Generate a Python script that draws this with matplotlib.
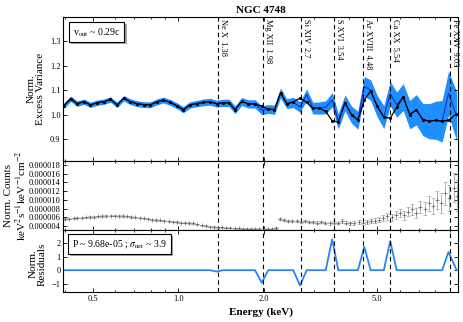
import matplotlib
matplotlib.use("Agg")
import matplotlib.pyplot as plt
import matplotlib.patheffects as pe
from matplotlib.ticker import FixedLocator, FormatStrFormatter, LogLocator, NullFormatter
import matplotlib.transforms as mtransforms

plt.rcParams.update({
    'font.family': 'serif',
    'font.serif': ['Liberation Serif', 'DejaVu Serif'],
    'mathtext.fontset': 'stix',
    'font.size': 6,
    'xtick.direction': 'in', 'ytick.direction': 'in',
    'xtick.top': True, 'ytick.right': True,
    'xtick.major.size': 3, 'ytick.major.size': 3,
    'xtick.minor.size': 1.5, 'ytick.minor.size': 1.5,
    'xtick.major.width': 0.6, 'ytick.major.width': 0.6,
    'axes.linewidth': 0.8,
})

# energies of the excess variance bins (keV)
energy = [0.396, 0.418, 0.441, 0.466, 0.491, 0.519, 0.547, 0.577, 0.609, 0.643,
          0.678, 0.715, 0.755, 0.797, 0.840, 0.887, 0.936, 0.987, 1.041, 1.099,
          1.160, 1.223, 1.292, 1.363, 1.436, 1.508, 1.583, 1.671, 1.763, 1.861,
          1.965, 2.072, 2.179, 2.288, 2.406, 2.538, 2.679, 2.828, 2.971, 3.130,
          3.299, 3.477, 3.653, 3.857, 4.066, 4.282, 4.509, 4.749, 5.010, 5.281,
          5.562, 5.862, 6.179, 6.518, 6.871, 7.242, 7.633, 8.046, 8.473, 8.917,
          9.530]
fvar = [1.037, 1.065, 1.045, 1.053, 1.040, 1.049, 1.053, 1.062, 1.040, 1.067,
        1.053, 1.045, 1.041, 1.040, 1.052, 1.060, 1.050, 1.037, 1.020, 1.040,
        1.045, 1.050, 1.053, 1.045, 1.048, 1.048, 1.020, 1.054, 1.044, 1.044,
        1.018, 1.023, 1.020, 1.089, 1.045, 1.050, 1.031, 1.082, 1.027, 1.027,
        1.030, 1.061, 0.973, 1.048, 1.000, 0.977, 1.116, 1.100, 1.034, 0.990,
        1.086, 1.041, 1.072, 1.000, 1.020, 0.980, 0.973, 0.977, 0.973, 1.088,
        0.993]
fvar_err = [0.011, 0.011, 0.011, 0.011, 0.011, 0.011, 0.011, 0.011, 0.011, 0.011,
            0.012, 0.012, 0.012, 0.012, 0.012, 0.012, 0.012, 0.012, 0.013, 0.013,
            0.013, 0.014, 0.014, 0.014, 0.015, 0.015, 0.016, 0.016, 0.017, 0.017,
            0.018, 0.018, 0.019, 0.020, 0.020, 0.021, 0.022, 0.023, 0.024, 0.025,
            0.027, 0.030, 0.032, 0.033, 0.035, 0.037, 0.040, 0.042, 0.044, 0.047,
            0.050, 0.052, 0.055, 0.058, 0.062, 0.066, 0.072, 0.078, 0.085, 0.090,
            0.100]
model = [1.037, 1.065, 1.045, 1.053, 1.040, 1.049, 1.053, 1.062, 1.040, 1.067,
         1.053, 1.045, 1.041, 1.040, 1.052, 1.060, 1.050, 1.037, 1.020, 1.040,
         1.045, 1.050, 1.053, 1.045, 1.048, 1.048, 1.020, 1.054, 1.044, 1.044,
         1.034, 1.023, 1.020, 1.089, 1.045, 1.052, 1.068, 1.050, 1.027, 1.027,
         1.013, 0.975, 0.970, 1.048, 1.000, 0.978, 1.060, 1.097, 1.034, 0.990,
         0.985, 1.030, 1.072, 1.000, 1.020, 0.980, 0.973, 0.977, 0.973, 0.977,
         1.004]
resid = [0, 0, 0, 0, 0, 0, 0, 0, 0, 0,
         0, 0, 0, 0, 0, 0, 0, 0, 0, 0,
         0, 0, 0, -0.1, 0, 0, 0, 0, 0, 0,
         -0.92, 0, 0, 0, 0, 0, -1.12, 0, 0, 0,
         0, 2.27, 0, 0, 0, 0, 1.72, 0, 0, 0,
         2.14, 0, 0, 0, 0, 0, 0, 0, 0, 1.34,
         0]

# counts spectrum
spec_e = [0.400, 0.414, 0.428, 0.442, 0.457, 0.473, 0.489, 0.506, 0.523, 0.541,
          0.559, 0.578, 0.598, 0.618, 0.639, 0.661, 0.683, 0.707, 0.731, 0.756,
          0.781, 0.808, 0.835, 0.864, 0.893, 0.924, 0.955, 0.988, 1.021, 1.056,
          1.092, 1.129, 1.168, 1.207, 1.248, 1.291, 1.335, 1.380, 1.427, 1.476,
          1.526, 1.578, 1.632, 1.687, 1.745, 1.804, 1.865, 1.929, 1.994, 2.062,
          2.132, 2.205, 2.280, 2.357, 2.437, 2.520, 2.606, 2.695, 2.786, 2.881,
          2.979, 3.080, 3.185, 3.293, 3.405, 3.521, 3.641, 3.765, 3.893, 4.025,
          4.162, 4.303, 4.450, 4.601, 4.757, 4.919, 5.087, 5.260, 5.438, 5.623,
          5.815, 6.012, 6.217, 6.428, 6.647, 6.873, 7.107, 7.348, 7.598, 7.857,
          8.124, 8.400, 8.686, 8.981, 9.287, 9.590]
spec_c = [5.6, 5.7, 5.8, 5.9, 5.9, 6.0, 6.1, 6.1, 6.2, 6.3,
          6.3, 6.4, 6.4, 6.3, 6.3, 6.2, 6.1, 6.0, 5.9, 5.8,
          5.7, 5.5, 5.4, 5.3, 5.2, 5.1, 5.0, 4.9, 4.8, 4.8,
          4.7, 4.6, 4.4, 4.2, 4.1, 3.9, 3.8, 3.7, 3.7, 3.6,
          3.6, 3.5, 3.5, 3.4, 3.4, 3.4, 3.3, 3.3, 3.3, 3.3,
          3.3, 3.6, 5.6, 5.4, 5.2, 5.2, 5.1, 5.0, 5.1, 4.9,
          4.9, 4.8, 4.9, 4.7, 4.6, 4.8, 4.7, 5.2, 4.8, 4.6,
          4.7, 4.9, 4.8, 5.0, 5.1, 5.2, 5.5, 5.8, 6.2, 6.0,
          6.6, 7.0, 6.5, 7.3, 7.8, 7.0, 8.4, 8.0, 9.2, 8.6,
          10.0, 9.3, 11.5, 10.4, 12.8, 11.0]
spec_err = [0.15, 0.15, 0.15, 0.15, 0.15, 0.15, 0.15, 0.15, 0.15, 0.15,
            0.15, 0.15, 0.15, 0.15, 0.15, 0.15, 0.15, 0.15, 0.15, 0.15,
            0.15, 0.15, 0.15, 0.15, 0.15, 0.15, 0.15, 0.15, 0.15, 0.15,
            0.15, 0.15, 0.15, 0.15, 0.15, 0.15, 0.15, 0.15, 0.15, 0.15,
            0.15, 0.15, 0.15, 0.15, 0.15, 0.15, 0.15, 0.15, 0.15, 0.15,
            0.15, 0.2, 0.25, 0.25, 0.25, 0.25, 0.25, 0.25, 0.25, 0.25,
            0.25, 0.25, 0.3, 0.3, 0.3, 0.3, 0.3, 0.4, 0.4, 0.4,
            0.4, 0.4, 0.5, 0.5, 0.5, 0.6, 0.6, 0.7, 0.8, 0.8,
            0.9, 1.0, 1.0, 1.1, 1.2, 1.2, 1.4, 1.5, 1.7, 1.8,
            2.0, 2.2, 2.6, 3.0, 3.3, 3.5]

line_names = ["Ne X", "Mg XII", "Si XIV", "S XVI", "Ar XVIII", "Ca XX", "Fe XXV"]
line_e = [1.38, 1.98, 2.7, 3.54, 4.48, 5.54, 9.03]

fig = plt.figure(figsize=(4.63, 3.22), dpi=100)
ax1 = fig.add_axes([0.1367, 0.5, 0.8519, 0.4472])
ax2 = fig.add_axes([0.1367, 0.2857, 0.8519, 0.2143])
ax3 = fig.add_axes([0.1367, 0.0932, 0.8519, 0.1925])

lo = [v - e for v, e in zip(fvar, fvar_err)]
hi = [v + e for v, e in zip(fvar, fvar_err)]
ax1.fill_between(energy, lo, hi, color='#1e8fff', lw=0)
ax1.plot(energy, fvar, color='#1530d0', lw=0.8)
ax1.plot(energy, model, color='k', lw=0.9, marker='.', ms=2.5)
ax1.set_ylim(0.81, 1.40)
ax1.set_yticks([0.9, 1.0, 1.1, 1.2, 1.3])
ax1.yaxis.set_major_formatter(FormatStrFormatter('%.1f'))

ax2.errorbar(spec_e, [c * 1e-6 for c in spec_c], yerr=[e * 1e-6 for e in spec_err],
             fmt='+', color='0.4', ecolor='0.65', elinewidth=0.6, capsize=1.3,
             capthick=0.5, ms=2.5, mew=0.5)
ax2.set_ylim(3.1e-6, 18.9e-6)
ax2.set_yticks([4e-6, 6e-6, 8e-6, 10e-6, 12e-6, 14e-6, 16e-6, 18e-6])
ax2.yaxis.set_major_formatter(FormatStrFormatter('%.6f'))

ax3.plot(energy, resid, color='#2a85f0', lw=1.3)
ax3.set_ylim(-1.6, 2.95)
ax3.set_yticks([-1, 0, 1, 2])

for ax in (ax1, ax2, ax3):
    ax.set_xscale('log')
    ax.set_xlim(0.394, 9.61)
    ax.xaxis.set_major_locator(FixedLocator([0.5, 1.0, 2.0, 5.0]))
    ax.xaxis.set_minor_locator(LogLocator(subs=(2, 3, 4, 6, 7, 8, 9)))
    ax.xaxis.set_minor_formatter(NullFormatter())
    ax.xaxis.set_major_formatter(FormatStrFormatter('%.1f'))
    for e in line_e:
        ax.axvline(e, color='k', ls=(0, (4, 3)), lw=0.8)
    ax.tick_params(labelsize=6, pad=2)
ax1.tick_params(labelbottom=False)
ax2.tick_params(labelbottom=False)

# line labels just right of each dashed line
trans = mtransforms.blended_transform_factory(ax1.transData, ax1.transAxes)
shift = mtransforms.ScaledTranslation(1 / 100, 0, fig.dpi_scale_trans)
for name, e in zip(line_names, line_e):
    ax1.text(e, 0.985, f"{name}  {e}", rotation=270, ha='left', va='top',
             transform=trans + shift, fontsize=6)

shadow = [pe.withSimplePatchShadow(offset=(1.5, -1.5), shadow_rgbFace='0.4', alpha=0.6)]
t1 = ax1.text(0.0247, 0.9375, r"v$_{\rm out}$ ~ 0.29c", transform=ax1.transAxes,
              ha='left', va='top', fontsize=7,
              bbox=dict(boxstyle='square,pad=0.4', fc='white', ec='k', lw=0.8))
t1.get_bbox_patch().set_path_effects(shadow)
t2 = ax3.text(0.0222, 0.87, r"P ~ 9.68e-05 ; $\sigma_{\rm net}$ ~ 3.9", transform=ax3.transAxes,
              ha='left', va='top', fontsize=7,
              bbox=dict(boxstyle='square,pad=0.4', fc='white', ec='k', lw=0.8))
t2.get_bbox_patch().set_path_effects(shadow)

ax1.set_title("NGC 4748", fontsize=8, fontweight='bold', pad=3)
ax1.set_ylabel("Norm.\nExcess Variance", fontsize=8, linespacing=1.0)
ax1.yaxis.set_label_coords(-0.046, 0.5)
ax2.set_ylabel("Norm. Counts\nkeV$^2$s$^{-1}$keV$^{-1}$cm$^{-2}$", fontsize=8, linespacing=1.0)
ax2.yaxis.set_label_coords(-0.09, 0.5)
ax3.set_ylabel("Norm.\nResiduals", fontsize=8, linespacing=1.0)
ax3.yaxis.set_label_coords(-0.041, 0.45)
ax3.set_xlabel("Energy (keV)", fontsize=8, fontweight='bold', labelpad=3)

fig.savefig("out.png", dpi=100)
